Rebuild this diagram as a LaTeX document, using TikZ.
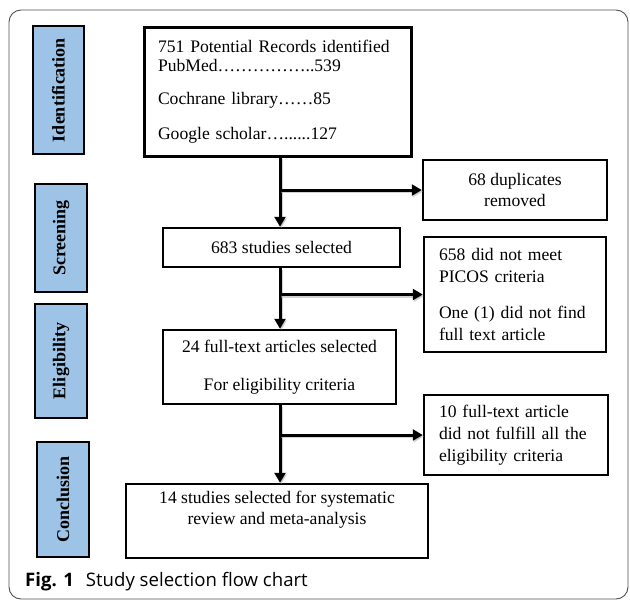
\documentclass[tikz,border=0pt]{standalone}
\usepackage{fontspec}
\setmainfont{Liberation Serif}
\newfontfamily\capfont{Open Sans}
\usetikzlibrary{arrows.meta}
\definecolor{sideblue}{RGB}{157,195,230}
\definecolor{framegray}{RGB}{80,80,80}
\tikzset{
  flowbox/.style={draw=black, line width=2.5pt, inner ysep=0pt, fill=white,
    font=\fontsize{17.6}{22}\selectfont},
  sidebox/.style={draw=black, line width=1.2pt, fill=sideblue, rotate=90, inner sep=0pt,
    font=\fontsize{18}{21}\selectfont\bfseries},
  flowarrow/.style={line width=3pt, -{Triangle[length=10pt,width=11pt]},
    preaction={draw=black!35, line width=3pt, opacity=0.5, transform canvas={shift={(1.2pt,-1.5pt)}}}}
}
\begin{document}
\begin{tikzpicture}[x=1pt, y=-1pt]
\useasboundingbox (0,0) rectangle (630,600);
\draw[framegray, line width=0.9pt, rounded corners=12pt] (9,10) rectangle (628,599);

% side labels
\node[sidebox, minimum width=128pt, minimum height=51pt] (sident) at (58.5,90) {Identification};
\node[sidebox, minimum width=108pt, minimum height=52pt] (sscreen) at (61,238) {Screening};
\node[sidebox, minimum width=114pt, minimum height=52pt] (selig) at (61,361) {Eligibility};
\node[sidebox, minimum width=115pt, minimum height=52pt] (sconc) at (63,499.5) {Conclusion};

% axis for the main arrows
\coordinate (ax) at (280,0);

% main boxes
\node[flowbox, line width=3pt, inner xsep=14pt, text width=239pt, minimum height=129pt, align=left,
  font=\fontsize{17.6}{19}\selectfont] (box1) at (277.5,91.5)
  {751 Potential Records identified\\
   PubMed……………..539\\[14pt]
   Cochrane library……85\\[16pt]
   Google scholar…......127};
\node[flowbox, minimum width=184pt, minimum height=60pt, align=center, font=\fontsize{17.6}{21}\selectfont] (b68) at (515,190)
  {68 duplicates\\removed};
\node[flowbox, minimum width=237pt, minimum height=39pt] (b683) at (281.5,247.5)
  {683 studies selected};
\node[flowbox, inner xsep=15pt, text width=152pt, minimum height=115pt, align=left] (b658) at (515,294.5)
  {658 did not meet\\PICOS criteria\\[14pt]One (1) did not find\\full text article};
\node[flowbox, minimum width=233pt, minimum height=74pt, align=center] (b24) at (279.5,367)
  {24 full-text articles selected\\[16pt]For eligibility criteria};
\node[flowbox, inner xsep=15pt, text width=154pt, minimum height=80pt, align=left] (b10) at (516,435)
  {10 full-text article\\did not fulfill all the\\eligibility criteria};
\node[flowbox, minimum width=302pt, minimum height=74pt, align=center, font=\fontsize{17.6}{21}\selectfont] (b14) at (277,521)
  {14 studies selected for systematic\\review and meta-analysis\\\strut};

% connectors
\draw[flowarrow] (box1.south -| ax) -- (b683.north -| ax);
\draw[flowarrow] (b68.west -| ax) -- (b68.west);
\draw[flowarrow] (b683.south -| ax) -- (b24.north -| ax);
\draw[flowarrow] (b658.west -| ax) -- (b658.west);
\draw[flowarrow] (b24.south -| ax) -- (b14.north -| ax);
\draw[flowarrow] (b10.west -| ax) -- (b10.west);

% caption
\node[anchor=base west, inner sep=0pt, font=\capfont\fontsize{18.6}{22}\selectfont] (cap) at (25,586)
  {\textbf{Fig. 1}\hspace{12pt}Study selection flow chart};
\end{tikzpicture}
\end{document}
